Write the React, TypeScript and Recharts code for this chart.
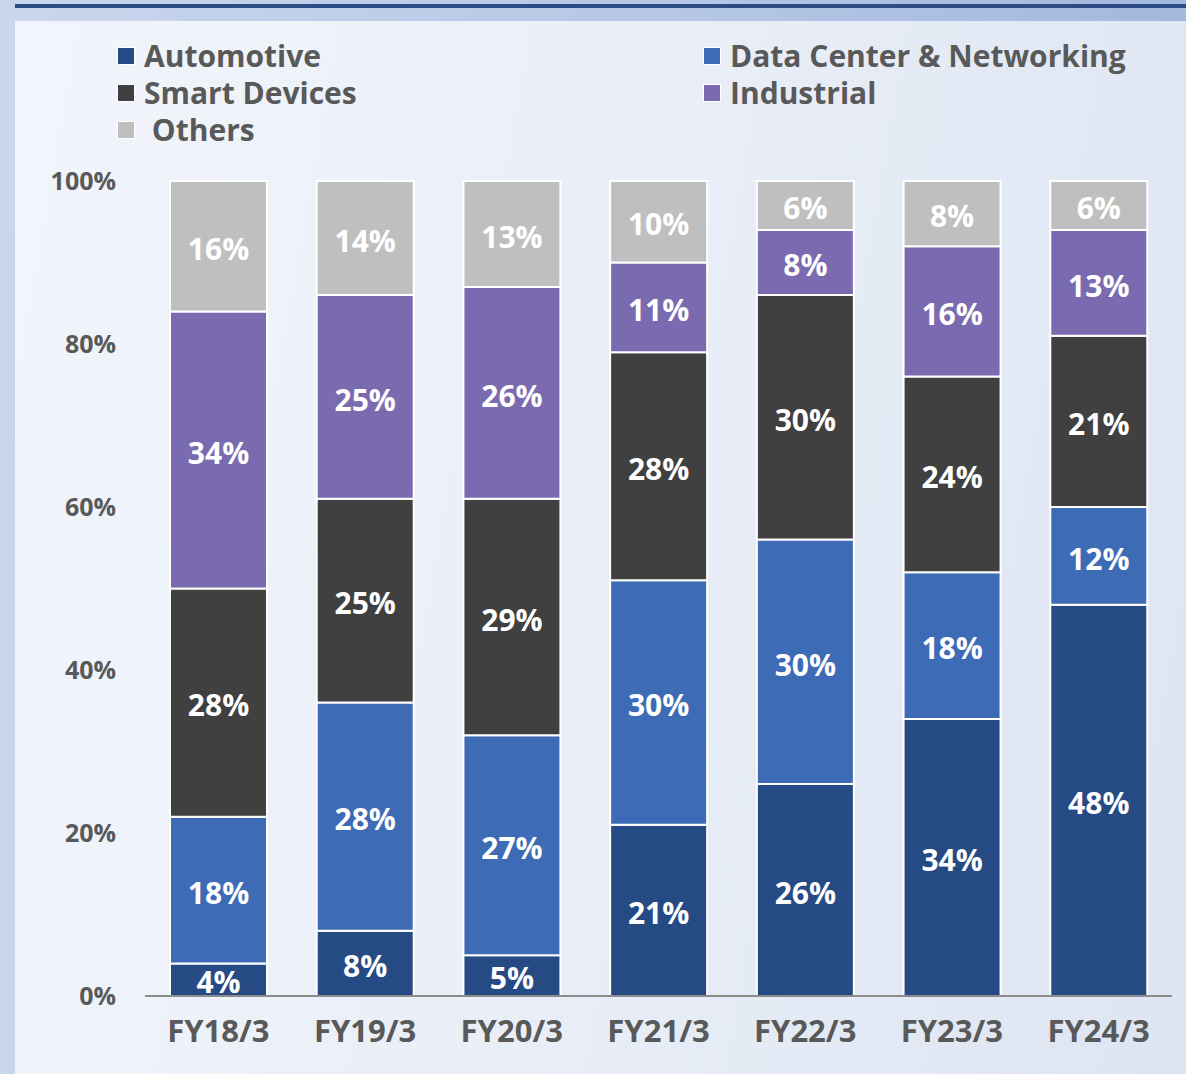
import React from 'react';
import { BarChart, Bar, XAxis, YAxis, LabelList, Legend } from 'recharts';

const categories = ['FY18/3', 'FY19/3', 'FY20/3', 'FY21/3', 'FY22/3', 'FY23/3', 'FY24/3'];
const automotive = [4, 8, 5, 21, 26, 34, 48];
const dataCenter = [18, 28, 27, 30, 30, 18, 12];
const smartDevices = [28, 25, 29, 28, 30, 24, 21];
const industrial = [34, 25, 26, 11, 8, 16, 13];
const others = [16, 14, 13, 10, 6, 8, 6];
const yTicks = [0, 20, 40, 60, 80, 100];

const series = [
  { key: 'automotive', name: 'Automotive', color: '#264a84' },
  { key: 'dataCenter', name: 'Data Center & Networking', color: '#3d6bb5' },
  { key: 'smartDevices', name: 'Smart Devices', color: '#404040' },
  { key: 'industrial', name: 'Industrial', color: '#7a6bb0' },
  { key: 'others', name: ' Others', color: '#bfbfbf' },
];

const data = categories.map((c, i) => ({
  name: c,
  automotive: automotive[i],
  dataCenter: dataCenter[i],
  smartDevices: smartDevices[i],
  industrial: industrial[i],
  others: others[i],
}));

const FONT = '"Open Sans", "Noto Sans", sans-serif';
const GRAY = '#595959';

const LegendContent = () => (
  <div
    style={{
      display: 'grid',
      gridTemplateColumns: '586px 474px',
      rowGap: 0,
      fontFamily: FONT,
      fontWeight: 700,
      fontSize: 30,
      color: GRAY,
      lineHeight: '37px',
    }}
  >
    {series.map((s) => (
      <div key={s.key} style={{ display: 'flex', alignItems: 'center', whiteSpace: 'pre' }}>
        <span
          style={{
            display: 'inline-block',
            width: 16,
            height: 16,
            background: s.color,
            border: '1px solid #ffffff',
            marginRight: 9,
          }}
        />
        <span style={{ letterSpacing: 0 }}>{s.name}</span>
      </div>
    ))}
  </div>
);

export default function App() {
  return (
    <div
      style={{
        position: 'absolute',
        left: 0,
        top: 0,
        width: 1186,
        height: 1074,
        overflow: 'hidden',
        background: 'linear-gradient(90deg, #c9d7ed 0%, #b4c6e5 60%, #a3b8dd 100%)',
      }}
    >
      <div style={{ position: 'absolute', left: 15, right: 0, top: 4, height: 4, background: '#2b4c85' }} />
      <div
        style={{
          position: 'absolute',
          left: 15,
          right: 0,
          top: 21,
          bottom: 0,
          background: 'linear-gradient(100deg, #f2f5fb 0%, #e9eef7 50%, #dde5f2 100%)',
        }}
      />
      <div style={{ position: 'absolute', left: 0, top: 0 }}>
        <BarChart
          width={1186}
          height={1074}
          data={data}
          margin={{ top: 181, right: 14, bottom: 18, left: 0 }}
          barSize={97}
        >
          <XAxis
            dataKey="name"
            height={60}
            tickLine={false}
            tickSize={0}
            tickMargin={24}
            axisLine={{ stroke: '#8c8c8c', strokeWidth: 2 }}
            tick={{ fill: GRAY, fontSize: 31, fontWeight: 700, fontFamily: FONT }}
          />
          <YAxis
            width={145}
            domain={[0, 100]}
            ticks={yTicks}
            axisLine={false}
            tickLine={false}
            tickSize={0}
            tickMargin={29}
            tickFormatter={(v) => `${v}%`}
            tick={{ fill: GRAY, fontSize: 25, fontWeight: 700, fontFamily: FONT }}
          />
          <Legend
            layout="horizontal"
            verticalAlign="middle"
            align="center"
            wrapperStyle={{ top: 37, left: 117, width: 1060, height: 111 }}
            content={() => <LegendContent />}
          />
          {series.map((s) => (
            <Bar
              key={s.key}
              dataKey={s.key}
              name={s.name}
              stackId="a"
              fill={s.color}
              stroke="#ffffff"
              strokeWidth={2}
              isAnimationActive={false}
            >
              <LabelList
                dataKey={s.key}
                position="center"
                formatter={(v: any) => `${v}%`}
                dy={3}
                style={{ fill: '#ffffff', fontSize: 30, fontWeight: 700, fontFamily: FONT }}
              />
            </Bar>
          ))}
        </BarChart>
      </div>
    </div>
  );
}
